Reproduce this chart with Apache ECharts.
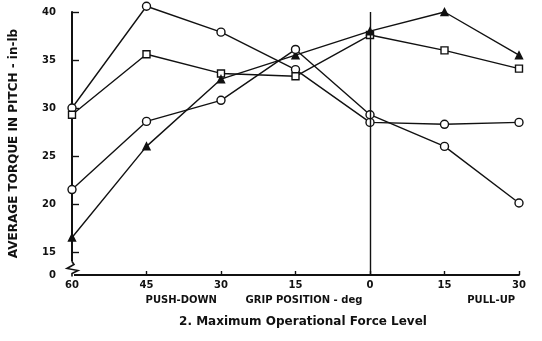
<!DOCTYPE html>
<html>
<head>
<meta charset="utf-8">
<style>
  html, body { margin: 0; padding: 0; background: #fff; }
  #chart { width: 542px; height: 341px; }
</style>
<script src="https://cdn.jsdelivr.net/npm/echarts@6/dist/echarts.min.js"></script>
</head>
<body>
<div id="chart"></div>
<script>
// Grip position in degrees: negative = push-down, positive = pull-up
const gripPositions = [-60, -45, -30, -15, 0, 15, 30];

// Average torque in pitch (in-lb) for each condition
const circleHighTorque = [30.0, 40.6, 37.9, 34.0, 28.5, 28.3, 28.5];
const squareTorque     = [29.3, 35.6, 33.6, 33.3, 37.6, 36.0, 34.1];
const triangleTorque   = [16.5, 26.0, 33.0, 35.5, 38.0, 40.0, 35.5];
const circleLowTorque  = [21.5, 28.6, 30.8, 36.1, 29.3, 26.0, 20.1];

// Axis ticks; the lowest y tick sits below the axis break and reads "0"
const xTicks = [-60, -45, -30, -15, 0, 15, 30];
const yTicks = [15, 20, 25, 30, 35, 40];
const yBreakValue = 12.6;
const yBreakLabel = '0';

const titleText = '2. Maximum Operational Force Level';
const yAxisTitle = 'AVERAGE TORQUE IN PITCH - in-lb';
const xSubLabels = ['PUSH-DOWN', 'GRIP POSITION - deg', 'PULL-UP'];

const FONT = 'DejaVu Sans';

function pairs(values) {
  return gripPositions.map((x, i) => [x, values[i]]);
}

function lineSeries(name, values, symbol, size, filled) {
  return {
    name: name,
    type: 'line',
    data: pairs(values),
    symbol: symbol,
    symbolSize: size,
    showAllSymbol: true,
    clip: false,
    lineStyle: { color: '#111', width: 1.4 },
    itemStyle: { color: filled ? '#111' : '#fff', borderColor: '#111', borderWidth: 1.4 },
    emphasis: { disabled: true },
    z: 3
  };
}

const chart = echarts.init(document.getElementById('chart'), null, { renderer: 'canvas' });

const option = {
  animation: false,
  backgroundColor: '#fff',
  title: {
    text: titleText,
    left: 298,
    top: 311,
    textAlign: 'center',
    textStyle: { fontFamily: FONT, fontSize: 12, fontWeight: 'bold', color: '#111' }
  },
  grid: { left: 68, right: 23, top: 12, bottom: 66 },
  xAxis: {
    type: 'value',
    min: -60,
    max: 30,
    interval: 15,
    axisLine: { show: true, onZero: false, lineStyle: { color: '#111', width: 1.8 } },
    axisTick: { show: true, inside: true, length: 4, lineStyle: { color: '#111', width: 1.4 } },
    axisLabel: {
      customValues: xTicks,
      formatter: v => String(Math.abs(v)),
      margin: 5,
      fontFamily: FONT, fontSize: 10, fontWeight: 'bold', color: '#111'
    },
    splitLine: { show: false }
  },
  yAxis: {
    type: 'value',
    min: yBreakValue,
    max: 40,
    name: yAxisTitle,
    nameLocation: 'middle',
    nameGap: 52,
    nameRotate: 90,
    nameTextStyle: { fontFamily: FONT, fontSize: 12, fontWeight: 'bold', color: '#111' },
    axisLine: { show: true, onZero: false, lineStyle: { color: '#111', width: 2 } },
    axisTick: { show: true, inside: true, length: 7, customValues: yTicks, lineStyle: { color: '#111', width: 1.4 } },
    axisLabel: {
      customValues: [yBreakValue].concat(yTicks),
      formatter: v => (v === yBreakValue ? yBreakLabel : String(v)),
      margin: 16,
      fontFamily: FONT, fontSize: 10, fontWeight: 'bold', color: '#111'
    },
    splitLine: { show: false }
  },
  series: [
    lineSeries('circle-high', circleHighTorque, 'circle', 8, false),
    lineSeries('square', squareTorque, 'rect', 7, false),
    lineSeries('triangle', triangleTorque, 'triangle', 7, true),
    lineSeries('circle-low', circleLowTorque, 'circle', 8, false),
    {
      // vertical reference at the neutral grip position
      type: 'line',
      data: [],
      markLine: {
        silent: true,
        symbol: 'none',
        label: { show: false },
        lineStyle: { color: '#111', width: 1.4, type: 'solid' },
        data: [{ xAxis: 0 }]
      },
      z: 2
    }
  ]
};

chart.setOption(option);

// Sub-labels under the x axis and the break mark on the y axis
const subY = chart.convertToPixel({ gridIndex: 0 }, [0, yBreakValue])[1] + 25;
const pushX = chart.convertToPixel({ gridIndex: 0 }, [-38, 0])[0];
const gripX = chart.convertToPixel({ gridIndex: 0 }, [-13.3, 0])[0];
const pullX = chart.convertToPixel({ gridIndex: 0 }, [24.4, 0])[0];
const axisX = chart.convertToPixel({ gridIndex: 0 }, [-60, 0])[0];
const breakTop = chart.convertToPixel({ gridIndex: 0 }, [-60, 14.0])[1];
const step = 3;

const labelStyle = { fontFamily: FONT, fontSize: 10, fontWeight: 'bold', fill: '#111', textAlign: 'center', textVerticalAlign: 'middle' };

chart.setOption({
  graphic: [
    { type: 'text', x: pushX, y: subY, style: Object.assign({ text: xSubLabels[0] }, labelStyle) },
    { type: 'text', x: gripX, y: subY, style: Object.assign({ text: xSubLabels[1] }, labelStyle) },
    { type: 'text', x: pullX, y: subY, style: Object.assign({ text: xSubLabels[2] }, labelStyle) },
    {
      type: 'rect',
      shape: { x: axisX - 2, y: breakTop, width: 4, height: step * 5 },
      style: { fill: '#fff' },
      z: 10
    },
    {
      type: 'polyline',
      shape: {
        points: [
          [axisX, breakTop],
          [axisX + 2, breakTop + step],
          [axisX - 5, breakTop + step * 2.3],
          [axisX + 6, breakTop + step * 3],
          [axisX, breakTop + step * 4],
          [axisX, breakTop + step * 5]
        ]
      },
      style: { stroke: '#111', lineWidth: 1.6, fill: null },
      z: 11
    }
  ]
});
</script>
</body>
</html>
